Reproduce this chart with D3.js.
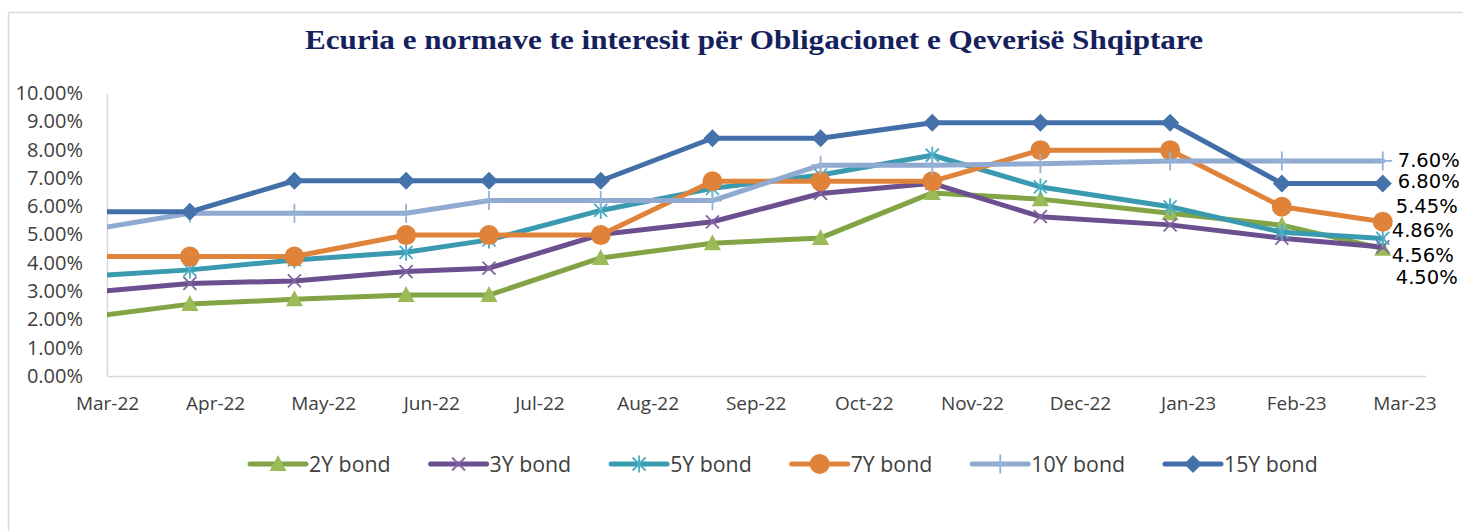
<!DOCTYPE html>
<html>
<head>
<meta charset="utf-8">
<script src="https://cdn.jsdelivr.net/npm/d3@7"></script>
<style>
  html, body { margin: 0; padding: 0; background: #ffffff; }
  svg { display: block; }
</style>
</head>
<body>
<svg id="chart" width="1463" height="531"></svg>
<script>
// ---------------- DATA ----------------
const titleText = "Ecuria e normave te interesit për Obligacionet e Qeverisë Shqiptare";
const dates = ["2022-02-28","2022-03-31","2022-04-29","2022-05-30","2022-06-22","2022-07-23",
               "2022-08-23","2022-09-22","2022-10-23","2022-11-22","2022-12-28","2023-01-28","2023-02-25"];
const seriesNames = ["2Y bond","3Y bond","5Y bond","7Y bond","10Y bond","15Y bond"];
const bond2Y  = [2.03, 2.54, 2.71, 2.86, 2.86, 4.17, 4.69, 4.88, 6.47, 6.25, 5.75, 5.33, 4.50];
const bond3Y  = [2.92, 3.27, 3.36, 3.69, 3.81, 5.00, 5.45, 6.45, 6.81, 5.63, 5.34, 4.87, 4.56];
const bond5Y  = [3.51, 3.75, 4.10, 4.37, 4.81, 5.85, 6.63, 7.10, 7.80, 6.68, 5.98, 5.08, 4.86];
const bond7Y  = [4.22, 4.22, 4.22, 4.98, 4.98, 4.98, 6.88, 6.88, 6.88, 7.98, 7.98, 5.98, 5.45];
const bond10Y = [5.10, 5.75, 5.75, 5.75, 6.20, 6.20, 6.20, 7.45, 7.45, 7.50, 7.60, 7.60, 7.60];
const bond15Y = [5.80, 5.80, 6.90, 6.90, 6.90, 6.90, 8.40, 8.40, 8.95, 8.95, 8.95, 6.80, 6.80];
const endLabels = ["4.50%","4.56%","4.86%","5.45%","7.60%","6.80%"];
const yTicks = [0,1,2,3,4,5,6,7,8,9,10];
const xAxisStart = "2022-03-08";
const xAxisEnd = "2023-03-09";
const xTickStepDays = 30;
const xTickCount = 13;

// ---------------- STYLE ----------------
const lineColors   = ["#82A444","#6B4F8E","#3A9AB0","#E0833A","#8FA9D0","#436FA8"];
const markerColors = ["#9BBB59","#8064A2","#4BACC6","#E0833A","#95B3D7","#4672AC"];
const markerTypes  = ["triangle","x","star","circle","plus","diamond"];
const labelDx = [13, 9, 9, 13, 15, 15];
const labelDy = [35.4, 15.3, -1.8, -8.5, 6.0, 4.2];

const parse = d3.timeParse("%Y-%m-%d");
const dateVals = dates.map(parse);
const allSeries = [bond2Y, bond3Y, bond5Y, bond7Y, bond10Y, bond15Y];

const svg = d3.select("#chart");

// frame
svg.append("line").attr("x1",8.5).attr("y1",12.5).attr("x2",8.5).attr("y2",531)
  .attr("stroke","#D9D9D9").attr("stroke-width",1.5);
svg.append("line").attr("x1",8.5).attr("y1",12.5).attr("x2",1463).attr("y2",12.5)
  .attr("stroke","#D9D9D9").attr("stroke-width",1.5);

// title
const title = svg.append("text")
  .attr("x", 754).attr("y", 49)
  .attr("text-anchor","middle")
  .attr("font-family","'Liberation Serif','DejaVu Serif',serif")
  .attr("font-weight","bold")
  .attr("font-size", 27)
  .attr("fill","#14215C")
  .text(titleText);
const tw = title.node().getComputedTextLength();
if (Math.abs(tw - 898) > 4) {
  title.attr("textLength", 898).attr("lengthAdjust","spacingAndGlyphs");
}

// scales
const x = d3.scaleTime().domain([parse(xAxisStart), parse(xAxisEnd)]).range([107, 1426]);
const y = d3.scaleLinear().domain([0, 10]).range([376, 93]);

// y axis
const yAxis = d3.axisLeft(y).tickValues(yTicks).tickSize(0).tickPadding(24)
  .tickFormat(d => d3.format(".2f")(d) + "%");
const gy = svg.append("g").attr("transform","translate(107,0)").call(yAxis);
gy.select(".domain").attr("stroke","#D9D9D9").attr("stroke-width",1.5);
gy.selectAll("text").attr("font-family","'Open Sans',sans-serif").attr("font-size",20)
  .attr("fill","#404040");

// x axis
const xTickVals = d3.range(xTickCount).map(k => d3.timeDay.offset(parse(xAxisStart), k * xTickStepDays));
const xAxis = d3.axisBottom(x).tickValues(xTickVals).tickSize(0).tickPadding(21)
  .tickFormat(d3.timeFormat("%b-%y"));
const gx = svg.append("g").attr("transform","translate(0,376)").call(xAxis);
gx.select(".domain").attr("stroke","#D9D9D9").attr("stroke-width",1.5);
gx.selectAll("text").attr("font-family","'Open Sans',sans-serif").attr("font-size",19)
  .attr("fill","#404040");

// clip
svg.append("defs").append("clipPath").attr("id","plotclip")
  .append("rect").attr("x",107).attr("y",0).attr("width",1463-107).attr("height",531);

function drawMarker(g, type, color, cx, cy) {
  const m = g.append("g").attr("transform", `translate(${cx},${cy})`);
  if (type === "triangle") {
    m.append("path").attr("d","M0,-9L8.5,7L-8.5,7Z").attr("fill",color);
  } else if (type === "x") {
    m.append("path").attr("d","M-6.5,-6.5L6.5,6.5M-6.5,6.5L6.5,-6.5").attr("stroke",color)
      .attr("stroke-width",1.8).attr("fill","none");
  } else if (type === "star") {
    m.append("path").attr("d","M-6.5,-6.5L6.5,6.5M-6.5,6.5L6.5,-6.5M0,-8.5L0,8.5").attr("stroke",color)
      .attr("stroke-width",1.8).attr("fill","none");
  } else if (type === "circle") {
    m.append("circle").attr("r",10).attr("fill",color);
  } else if (type === "plus") {
    m.append("path").attr("d","M0,-9.5L0,9.5M-9.5,0L9.5,0").attr("stroke",color)
      .attr("stroke-width",1.8).attr("fill","none");
  } else if (type === "diamond") {
    m.append("path").attr("d","M0,-9L9,0L0,9L-9,0Z").attr("fill",color);
  }
}

const plot = svg.append("g").attr("clip-path","url(#plotclip)");
const line = d3.line().x((d,i) => x(dateVals[i])).y(d => y(d));

allSeries.forEach((vals, s) => {
  const g = plot.append("g");
  g.append("path").datum(vals).attr("d", line)
    .attr("fill","none").attr("stroke", lineColors[s]).attr("stroke-width",5)
    .attr("stroke-linejoin","round").attr("stroke-linecap","round");
  vals.forEach((v, i) => drawMarker(g, markerTypes[s], markerColors[s], x(dateVals[i]), y(v)));
});

// end labels
allSeries.forEach((vals, s) => {
  const last = vals.length - 1;
  svg.append("text")
    .attr("x", x(dateVals[last]) + labelDx[s])
    .attr("y", y(vals[last]) + labelDy[s])
    .attr("font-family","'DejaVu Sans',sans-serif").attr("font-size",19.5)
    .attr("fill","#000000")
    .text(endLabels[s]);
});

// legend
const legend = svg.append("g");
let lx = 250;
const ly = 464;
seriesNames.forEach((name, s) => {
  const g = legend.append("g");
  g.append("line").attr("x1", lx).attr("x2", lx + 56).attr("y1", ly).attr("y2", ly)
    .attr("stroke", lineColors[s]).attr("stroke-width",5).attr("stroke-linecap","round");
  drawMarker(g, markerTypes[s], markerColors[s], lx + 28, ly);
  const t = g.append("text").attr("x", lx + 59).attr("y", ly + 7.5)
    .attr("font-family","'Open Sans',sans-serif").attr("font-size",21.3).attr("fill","#404040")
    .text(name);
  lx = lx + 59 + t.node().getComputedTextLength() + 40;
});
</script>
</body>
</html>
